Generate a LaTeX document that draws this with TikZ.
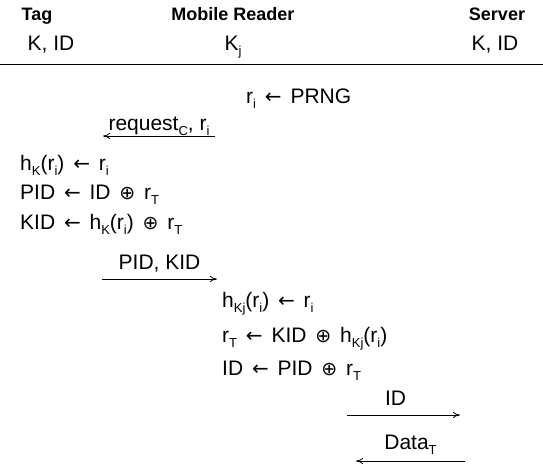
\documentclass[tikz,border=0pt]{standalone}
\usepackage{fontspec}
\setmainfont{Liberation Sans}
\newfontfamily\symf{DejaVu Sans}
\usetikzlibrary{arrows.meta}
\newcommand\sbs[1]{\raisebox{-0.5ex}{\fontsize{13}{13}\selectfont #1}}
\newcommand\la{\hspace{3pt}{\symf\fontsize{20}{22}\selectfont ←}\hspace{3pt}}
\newcommand\xo{\hspace{3pt}{\symf\fontsize{19}{22}\selectfont ⊕}\hspace{3pt}}
\begin{document}
\begin{tikzpicture}[x=1pt,y=-1pt,
  txt/.style={inner sep=0pt, anchor=base west, font=\fontsize{21}{24}\selectfont},
  hd/.style={inner sep=0pt, anchor=base, font=\fontsize{18}{22}\selectfont\bfseries},
  msg/.style={-{To[length=7pt,width=6pt]}, line width=0.8pt},
  lbl/.style={inner sep=0pt, anchor=base, font=\fontsize{21}{24}\selectfont}]
\useasboundingbox (0,0) rectangle (543,463);
% headers
\node[hd] (tag) at (37,20) {Tag};
\node[hd] (rdr) at (233,20) {Mobile Reader};
\node[hd] (srv) at (497,20) {Server};
\node[txt,anchor=base] (tagk) at (51,50) {K, ID};
\node[txt,anchor=base] (rdrk) at (233,50) {K\sbs{j}};
\node[txt,anchor=base] (srvk) at (495,50) {K, ID};
\coordinate (l0) at (0,64);
\coordinate (l1) at (543,64);
\draw[line width=0.8pt] (l0) -- (l1);
% steps
\node[txt] (prng) at (246,103) {r\sbs{i} \la\ PRNG};
\coordinate (m1s) at (215,136);
\coordinate (m1e) at (103,136);
\draw[msg] (m1s) -- node[lbl, above=6pt, anchor=base] (m1l) {request\sbs{C}, r\sbs{i}} (m1e);
\node[txt] (t1) at (20,170) {h\sbs{K}(r\sbs{i}) \la\ r\sbs{i}};
\node[txt] (t2) at (20,199) {PID \la\ ID \xo\ r\sbs{T}};
\node[txt] (t3) at (20,229) {KID \la\ h\sbs{K}(r\sbs{i}) \xo\ r\sbs{T}};
\coordinate (m2s) at (102,279);
\coordinate (m2e) at (217,279);
\draw[msg] (m2s) -- node[lbl, above=10pt, anchor=base] (m2l) {PID, KID} (m2e);
\node[txt] (r1) at (222,307) {h\sbs{Kj}(r\sbs{i}) \la\ r\sbs{i}};
\node[txt] (r2) at (222,342) {r\sbs{T} \la\ KID \xo\ h\sbs{Kj}(r\sbs{i})};
\node[txt] (r3) at (222,375) {ID \la\ PID \xo\ r\sbs{T}};
\coordinate (m3s) at (347,415);
\coordinate (m3e) at (460,415);
\draw[msg] (m3s) -- node[lbl, pos=0.43, above=10pt, anchor=base] (m3l) {ID} (m3e);
\coordinate (m4s) at (465,461);
\coordinate (m4e) at (356,461);
\draw[msg] (m4s) -- node[lbl, above=12pt, anchor=base] (m4l) {Data\sbs{T}} (m4e);
\end{tikzpicture}
\end{document}
